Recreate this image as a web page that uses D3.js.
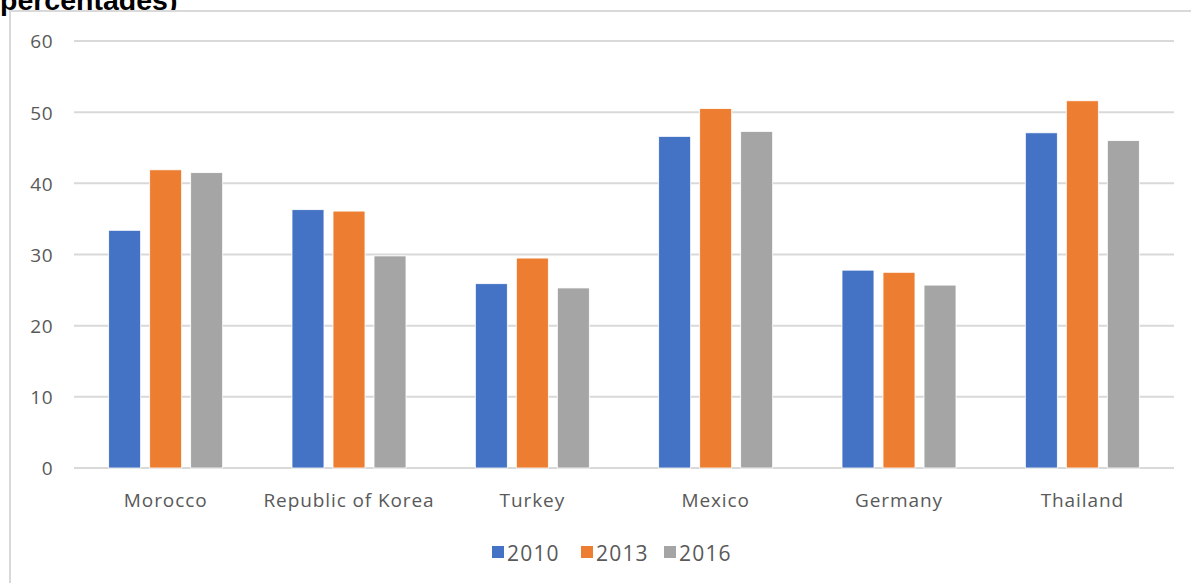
<!DOCTYPE html>
<html>
<head>
<meta charset="utf-8">
<script src="https://cdn.jsdelivr.net/npm/d3@7"></script>
<style>
  html, body { margin: 0; padding: 0; background: #ffffff; }
  svg { display: block; }
</style>
</head>
<body>
<svg id="chart" width="1191" height="583"></svg>
<script>
const categories = ["Morocco", "Republic of Korea", "Turkey", "Mexico", "Germany", "Thailand"];
const seriesNames = ["2010", "2013", "2016"];
const values2010 = [33.4, 36.3, 25.9, 46.6, 27.8, 47.1];
const values2013 = [41.9, 36.1, 29.5, 50.5, 27.5, 51.6];
const values2016 = [41.5, 29.8, 25.3, 47.3, 25.7, 46.0];
const yTicks = [0, 10, 20, 30, 40, 50, 60];
const colors = ["#4472C4", "#ED7D31", "#A5A5A5"];
const titleText = "percentages)";

const seriesValues = [values2010, values2013, values2016];

const svg = d3.select("#chart");
const W = 1191, H = 583;
const fontFam = "'Open Sans', 'Noto Sans', sans-serif";
const textColor = "#595959";

// Cut-off title above the frame
svg.append("text")
  .attr("x", 0).attr("y", 10)
  .attr("font-family", "'Liberation Sans', Arial, sans-serif")
  .attr("font-weight", "bold")
  .attr("font-size", 28.5)
  .attr("fill", "#000")
  .text(titleText);

// Chart frame
svg.append("rect")
  .attr("x", 10).attr("y", 11)
  .attr("width", W + 20).attr("height", H + 20)
  .attr("fill", "#ffffff")
  .attr("stroke", "#d9d9d9")
  .attr("stroke-width", 2);

const x0 = d3.scaleBand().domain(categories).range([74, 1174]).paddingInner(0).paddingOuter(0);
const x1 = d3.scaleBand().domain(seriesNames).range([-57, 57]).paddingInner(0.22).paddingOuter(0);
const y = d3.scaleLinear().domain([0, 60]).range([468, 41]);

// gridlines
svg.append("g")
  .selectAll("line")
  .data(yTicks)
  .join("line")
  .attr("x1", 74).attr("x2", 1174)
  .attr("y1", d => y(d)).attr("y2", d => y(d))
  .attr("stroke", "#d9d9d9")
  .attr("stroke-width", 2);

// y axis labels
const yAxis = d3.axisLeft(y).tickValues(yTicks).tickSize(0).tickPadding(0);
const yg = svg.append("g").attr("transform", "translate(53,0)").call(yAxis);
yg.select(".domain").remove();
yg.selectAll("text")
  .attr("font-family", fontFam)
  .attr("font-size", 19)
  .attr("letter-spacing", 0.5)
  .attr("fill", textColor)
  .attr("dy", "0.36em");

// bars
const groups = svg.append("g")
  .selectAll("g")
  .data(categories)
  .join("g")
  .attr("transform", d => `translate(${x0(d) + x0.bandwidth() / 2},0)`);

groups.selectAll("rect")
  .data((c, ci) => seriesNames.map((s, si) => ({ s, si, v: seriesValues[si][ci] })))
  .join("rect")
  .attr("x", d => x1(d.s))
  .attr("width", x1.bandwidth())
  .attr("y", d => y(d.v))
  .attr("height", d => y(0) - y(d.v))
  .attr("fill", d => colors[d.si])
  .attr("stroke", "#ffffff")
  .attr("stroke-width", 0.8);

// x axis labels
const xAxis = d3.axisBottom(x0).tickSize(0).tickPadding(0);
const xg = svg.append("g").attr("transform", "translate(0,507)").call(xAxis);
xg.select(".domain").remove();
xg.selectAll("text")
  .attr("font-family", fontFam)
  .attr("font-size", 19)
  .attr("fill", textColor)
  .attr("letter-spacing", 0.9)
  .attr("dy", 0);

// legend
const legendX = [492, 581, 664];
const legend = svg.append("g")
  .selectAll("g")
  .data(seriesNames)
  .join("g")
  .attr("transform", (d, i) => `translate(${legendX[i]},0)`);
legend.append("rect")
  .attr("x", 0).attr("y", 546)
  .attr("width", 12).attr("height", 12)
  .attr("fill", (d, i) => colors[i]);
legend.append("text")
  .attr("x", 15).attr("y", 561)
  .attr("font-family", fontFam)
  .attr("font-size", 21)
  .attr("letter-spacing", 1.2)
  .attr("fill", textColor)
  .text(d => d);
</script>
</body>
</html>
